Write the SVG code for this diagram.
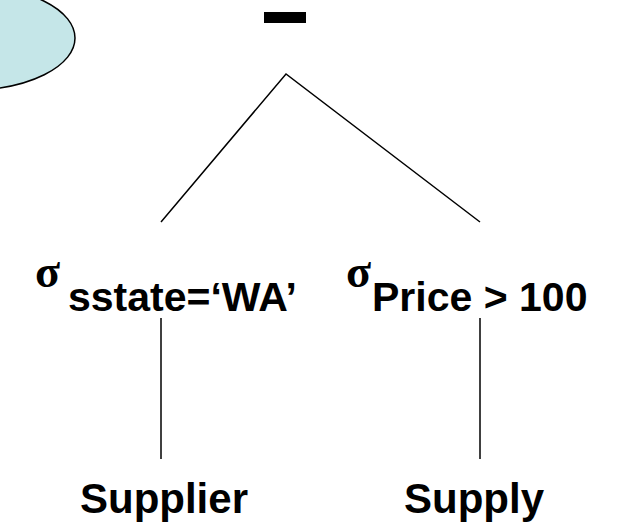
<svg xmlns="http://www.w3.org/2000/svg" width="619" height="523" viewBox="0 0 619 523">
  <style>
    .edge { stroke: #000; stroke-width: 1.5; fill: none; }
    .rel { font-family: "Liberation Sans", Arial, sans-serif; font-weight: bold; font-size: 42px; fill: #000; }
    .sigma { font-family: "Liberation Serif", "Times New Roman", serif; font-weight: bold; font-size: 46px; fill: #000; }
    .cond { font-family: "Liberation Sans", Arial, sans-serif; font-weight: bold; font-size: 41px; fill: #000; }
  </style>
  <rect width="619" height="523" fill="#fff"/>

  <!-- callout bubble, mostly off the top-left edge -->
  <g id="bubble">
    <ellipse cx="-30" cy="38" rx="105" ry="52" fill="#C5E6E8" stroke="#000" stroke-width="1.5"/>
  </g>

  <!-- connectors -->
  <g id="edges">
    <polyline class="edge" points="161,222 286,74 480,222"/>
    <line class="edge" x1="161" y1="318" x2="161" y2="459"/>
    <line class="edge" x1="480" y1="318" x2="480" y2="459"/>
  </g>

  <!-- set difference operator -->
  <g id="diff">
    <rect x="264" y="12" width="42" height="11" fill="#000"/>
  </g>

  <g id="sel-state">
    <text class="sigma" x="60" y="287" text-anchor="end">σ</text>
    <text class="cond" x="297" y="311" text-anchor="end">sstate=‘WA’</text>
  </g>

  <g id="sel-price">
    <text class="sigma" x="346" y="287">σ</text>
    <text class="cond" x="372" y="311">Price &gt; 100</text>
  </g>

  <g id="supplier">
    <text class="rel" x="248" y="513" text-anchor="end">Supplier</text>
  </g>

  <g id="supply">
    <text class="rel" x="404" y="513">Supply</text>
  </g>
</svg>
